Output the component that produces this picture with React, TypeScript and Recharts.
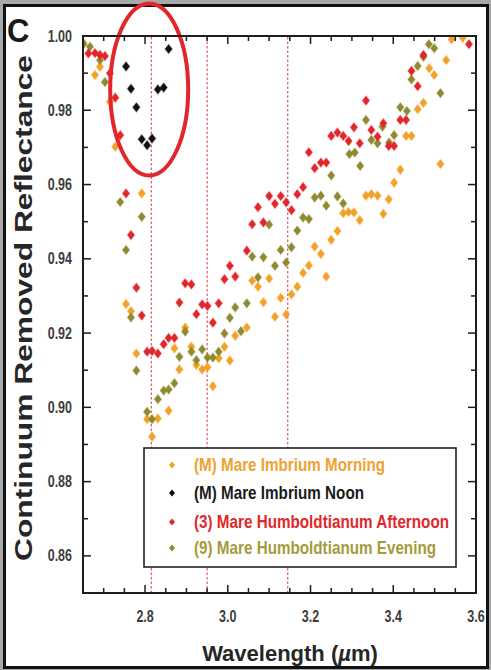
import React from "react";
import {
  ScatterChart,
  Scatter,
  XAxis,
  YAxis,
  ReferenceLine,
  ReferenceDot,
  Legend,
} from "recharts";

// axis ticks (µm and reflectance)
const X_DOMAIN: [number, number] = [2.65, 3.6];
const Y_DOMAIN: [number, number] = [0.85, 1.0];
const X_TICKS = [2.65, 2.7, 2.75, 2.8, 2.85, 2.9, 2.95, 3.0, 3.05, 3.1, 3.15, 3.2, 3.25, 3.3, 3.35, 3.4, 3.45, 3.5, 3.55, 3.6];
const X_LABELS = [2.8, 3.0, 3.2, 3.4, 3.6];
const Y_TICKS = [0.85, 0.86, 0.87, 0.88, 0.89, 0.9, 0.91, 0.92, 0.93, 0.94, 0.95, 0.96, 0.97, 0.98, 0.99, 1.0];
const Y_LABELS = [0.86, 0.88, 0.9, 0.92, 0.94, 0.96, 0.98, 1.0];

// dashed band markers and the highlighted region
const BAND_LINES = [2.815, 2.95, 3.145];
const HIGHLIGHT = { x: 2.81, y: 0.9856 };

// [wavelength µm, continuum removed reflectance]
const morning: [number, number][] = [
  [2.651, 0.9982], [2.679, 0.9895], [2.691, 0.9917], [2.715, 0.9823], [2.728, 0.9702],
  [2.754, 0.9278], [2.766, 0.9259], [2.779, 0.9145], [2.792, 0.9576], [2.805, 0.8968],
  [2.817, 0.8921], [2.831, 0.897], [2.857, 0.8991], [2.871, 0.9159], [2.883, 0.9102],
  [2.897, 0.9215], [2.912, 0.9163], [2.924, 0.9114], [2.938, 0.9102], [2.951, 0.9108],
  [2.964, 0.9057], [2.978, 0.9132], [2.992, 0.9163], [3.005, 0.9126], [3.018, 0.9193],
  [3.046, 0.9215], [3.059, 0.9341], [3.073, 0.9325], [3.086, 0.9283], [3.1, 0.9347],
  [3.114, 0.9244], [3.128, 0.9295], [3.141, 0.925], [3.154, 0.9304], [3.168, 0.9325],
  [3.182, 0.9362], [3.196, 0.9382], [3.21, 0.9433], [3.225, 0.9413], [3.238, 0.9352],
  [3.25, 0.9451], [3.265, 0.9475], [3.279, 0.9523], [3.292, 0.9526], [3.305, 0.9525],
  [3.319, 0.9504], [3.334, 0.957], [3.347, 0.9574], [3.362, 0.957], [3.376, 0.9521],
  [3.389, 0.956], [3.402, 0.9605], [3.417, 0.964], [3.431, 0.9731], [3.444, 0.9731],
  [3.459, 0.9803], [3.473, 0.982], [3.487, 0.9913], [3.499, 0.9895], [3.514, 0.9655],
  [3.528, 0.9935], [3.541, 0.9991], [3.568, 0.9995],
];

const noon: [number, number][] = [
  [2.754, 0.9918], [2.766, 0.9858], [2.779, 0.9808], [2.792, 0.9722], [2.805, 0.9706],
  [2.817, 0.9724], [2.831, 0.9856], [2.845, 0.9861], [2.857, 0.9965],
];

const afternoon: [number, number][] = [
  [2.663, 0.9953], [2.679, 0.9954], [2.691, 0.9949], [2.703, 0.9946], [2.715, 0.99],
  [2.728, 0.9834], [2.74, 0.9733], [2.754, 0.9576], [2.766, 0.9464], [2.779, 0.9322],
  [2.792, 0.9247], [2.805, 0.915], [2.817, 0.9152], [2.831, 0.9145], [2.845, 0.917],
  [2.857, 0.9187], [2.871, 0.9187], [2.883, 0.9282], [2.897, 0.9334], [2.912, 0.9331],
  [2.924, 0.9251], [2.938, 0.9277], [2.951, 0.9273], [2.964, 0.9228], [2.978, 0.928],
  [2.992, 0.9345], [3.005, 0.9381], [3.018, 0.9352], [3.046, 0.9422], [3.059, 0.9493],
  [3.073, 0.9539], [3.086, 0.9498], [3.1, 0.9569], [3.114, 0.9548], [3.128, 0.9569],
  [3.141, 0.9552], [3.154, 0.9531], [3.168, 0.9574], [3.182, 0.9593], [3.196, 0.9687],
  [3.21, 0.9644], [3.225, 0.9659], [3.238, 0.9659], [3.25, 0.9731], [3.265, 0.974],
  [3.279, 0.9731], [3.292, 0.9717], [3.305, 0.9754], [3.319, 0.9711], [3.334, 0.9826],
  [3.347, 0.9747], [3.362, 0.9729], [3.376, 0.9765], [3.389, 0.9704], [3.402, 0.9704],
  [3.417, 0.9774], [3.431, 0.9774], [3.444, 0.9906], [3.459, 0.9865], [3.473, 0.9949],
  [3.583, 0.9978],
];

const evening: [number, number][] = [
  [2.651, 0.9978], [2.667, 0.9971], [2.691, 0.9935], [2.703, 0.9876], [2.74, 0.9553],
  [2.754, 0.9424], [2.766, 0.9242], [2.779, 0.9099], [2.792, 0.9513], [2.805, 0.8988],
  [2.817, 0.8968], [2.831, 0.9022], [2.845, 0.9045], [2.857, 0.9048], [2.871, 0.9065],
  [2.883, 0.9136], [2.897, 0.9204], [2.912, 0.915], [2.924, 0.9127], [2.938, 0.9156],
  [2.951, 0.9134], [2.964, 0.9134], [2.978, 0.915], [2.992, 0.9199], [3.005, 0.9241],
  [3.018, 0.9269], [3.032, 0.9205], [3.046, 0.928], [3.059, 0.9406], [3.073, 0.935],
  [3.086, 0.9404], [3.1, 0.9492], [3.114, 0.9381], [3.128, 0.9424], [3.141, 0.939],
  [3.154, 0.9431], [3.168, 0.9476], [3.182, 0.9511], [3.196, 0.9507], [3.21, 0.9565],
  [3.225, 0.957], [3.238, 0.9543], [3.25, 0.9624], [3.265, 0.9568], [3.279, 0.9549],
  [3.294, 0.9682], [3.307, 0.9686], [3.32, 0.965], [3.334, 0.9774], [3.347, 0.972],
  [3.362, 0.9711], [3.374, 0.9756], [3.39, 0.9713], [3.402, 0.9733], [3.417, 0.9808],
  [3.433, 0.9798], [3.444, 0.9883], [3.459, 0.9919], [3.473, 0.9944], [3.486, 0.9978],
  [3.499, 0.9967], [3.514, 0.9846],
];

const SERIES = [
  { key: "morning", name: "(M) Mare Imbrium Morning", points: morning, color: "#f2a227", text: "#efa232", width: 191 },
  { key: "noon", name: "(M) Mare Imbrium Noon", points: noon, color: "#111111", text: "#1a1a1a", width: 170 },
  { key: "afternoon", name: "(3) Mare Humboldtianum Afternoon", points: afternoon, color: "#e2262b", text: "#e0282c", width: 255 },
  { key: "evening", name: "(9) Mare Humboldtianum Evening", points: evening, color: "#8f8a2e", text: "#a49b3a", width: 242 },
];
// draw order: noon on top
const DRAW_ORDER = ["morning", "evening", "afternoon", "noon"];

const FONT = '"Liberation Sans", Arial, Helvetica, sans-serif';
const TICK_TEXT = "#3c3c3c";

// plot box in page pixels; the chart margins are derived from it
const CHART_W = 491;
const CHART_H = 670;
const PLOT = { left: 83, top: 36, right: 476, bottom: 593 };

const near = (v: number, list: number[]) => list.some((t) => Math.abs(t - v) < 1e-6);

function BottomTick({ x, y, payload }: any) {
  if (!near(payload.value, X_LABELS)) return <g />;
  return (
    <text
      transform={`translate(${x},${y + 29}) scale(1,1.25)`}
      textAnchor="middle"
      fontFamily={FONT}
      fontWeight="bold"
      fontSize={12.5}
      fill={TICK_TEXT}
    >
      {payload.value.toFixed(1)}
    </text>
  );
}

function LeftTick({ x, y, payload }: any) {
  if (!near(payload.value, Y_LABELS)) return <g />;
  return (
    <text
      transform={`translate(${x - 11},${y + 5.5}) scale(1,1.3)`}
      textAnchor="end"
      fontFamily={FONT}
      fontWeight="bold"
      fontSize={12.5}
      fill={TICK_TEXT}
    >
      {payload.value.toFixed(2)}
    </text>
  );
}

// frame with inward ticks on all four sides, drawn as thin filled bars
function Frame() {
  const w = PLOT.right - PLOT.left;
  const h = PLOT.bottom - PLOT.top;
  const px = (v: number) => PLOT.left + ((v - X_DOMAIN[0]) / (X_DOMAIN[1] - X_DOMAIN[0])) * w;
  const py = (v: number) => PLOT.bottom - ((v - Y_DOMAIN[0]) / (Y_DOMAIN[1] - Y_DOMAIN[0])) * h;
  const ink = "#1d1d1d";
  const bars: React.ReactNode[] = [];
  X_TICKS.forEach((v) => {
    const len = near(v, X_LABELS) ? 8 : 5;
    const x = px(v);
    bars.push(<rect key={`b${v}`} x={x - 0.75} y={PLOT.bottom - len} width={1.5} height={len} fill={ink} />);
    bars.push(<rect key={`t${v}`} x={x - 0.75} y={PLOT.top} width={1.5} height={len} fill={ink} />);
  });
  Y_TICKS.forEach((v) => {
    const len = near(v, Y_LABELS) ? 8 : 5;
    const y = py(v);
    bars.push(<rect key={`l${v}`} x={PLOT.left} y={y - 0.75} width={len} height={1.5} fill={ink} />);
    bars.push(<rect key={`r${v}`} x={PLOT.right - len} y={y - 0.75} width={len} height={1.5} fill={ink} />);
  });
  return (
    <g>
      {bars}
      <rect x={PLOT.left - 1} y={PLOT.top - 1} width={w + 2} height={2} fill={ink} />
      <rect x={PLOT.left - 1} y={PLOT.bottom - 1} width={w + 2} height={2} fill={ink} />
      <rect x={PLOT.left - 1} y={PLOT.top - 1} width={2} height={h + 2} fill={ink} />
      <rect x={PLOT.right - 1} y={PLOT.top - 1} width={2} height={h + 2} fill={ink} />
    </g>
  );
}

const diamond = (color: string, w = 3.6, h = 4.6) => (p: any) => (
  <path
    d={`M${p.cx},${p.cy - h} L${p.cx + w},${p.cy} L${p.cx},${p.cy + h} L${p.cx - w},${p.cy} Z`}
    fill={color}
    stroke={color}
    strokeOpacity={0.3}
    strokeWidth={1.4}
  />
);

function LegendBox() {
  return (
    <svg width={314} height={121} style={{ display: "block" }}>
      <rect x={1} y={1} width={312} height={119} fill="#fff" stroke="#222" strokeWidth={1.6} />
      {SERIES.map((s, i) => {
        const cy = [18, 46, 75, 101][i];
        return (
          <g key={s.key}>
            <path d={`M29,${cy - 3.5} L32,${cy} L29,${cy + 3.5} L26,${cy} Z`} fill={s.color} />
            <text
              transform={`translate(51,${cy + 5.5}) scale(1,1.2)`}
              fontFamily={FONT}
              fontWeight="bold"
              fontSize={15}
              fill={s.text}
              textLength={s.width}
              lengthAdjust="spacingAndGlyphs"
            >
              {s.name}
            </text>
          </g>
        );
      })}
    </svg>
  );
}

export default function App() {
  const ordered = DRAW_ORDER.map((k) => SERIES.find((s) => s.key === k)!);
  return (
    <div style={{ position: "fixed", left: 0, top: 0, width: CHART_W, height: CHART_H, background: "#a8a8a8", fontFamily: FONT }}>
      <div
        style={{
          position: "absolute",
          left: 3,
          top: 4,
          width: 486,
          height: 665,
          boxSizing: "border-box",
          border: "3px solid #111",
          background: "#fff",
        }}
      />
      <div style={{ position: "absolute", left: 0, top: 0 }}>
        <ScatterChart
          width={CHART_W}
          height={CHART_H}
          margin={{ top: PLOT.top, right: CHART_W - PLOT.right, bottom: 0, left: 0 }}
        >
          <XAxis
            type="number"
            dataKey="x"
            domain={X_DOMAIN}
            allowDataOverflow
            ticks={X_TICKS}
            interval={0}
            height={CHART_H - PLOT.bottom}
            axisLine={false}
            tickLine={false}
            tickSize={0}
            tickMargin={0}
            tick={<BottomTick />}
          />
          <YAxis
            type="number"
            dataKey="y"
            domain={Y_DOMAIN}
            allowDataOverflow
            ticks={Y_TICKS}
            interval={0}
            width={PLOT.left}
            axisLine={false}
            tickLine={false}
            tickSize={0}
            tickMargin={0}
            tick={<LeftTick />}
          />
          {BAND_LINES.map((v) => (
            <ReferenceLine key={v} x={v} stroke="#d8363a" strokeWidth={1} strokeDasharray="2.5 2" />
          ))}
          {ordered.map((s) => (
            <Scatter
              key={s.key}
              name={s.name}
              data={s.points.map(([x, y]) => ({ x, y }))}
              fill={s.color}
              shape={diamond(s.color)}
              isAnimationActive={false}
            />
          ))}
          <ReferenceDot
            x={HIGHLIGHT.x}
            y={HIGHLIGHT.y}
            ifOverflow="visible"
            shape={(p: any) => (
              <ellipse cx={p.cx} cy={p.cy} rx={39} ry={86} fill="none" stroke="#e3262b" strokeWidth={4} />
            )}
          />
          <Legend
            layout="vertical"
            align="center"
            verticalAlign="middle"
            wrapperStyle={{ left: 143, top: 447, width: 314, height: 121 }}
            content={() => <LegendBox />}
          />
        </ScatterChart>
      </div>
      <svg
        width={CHART_W}
        height={CHART_H}
        style={{ position: "absolute", left: 0, top: 0, pointerEvents: "none" }}
      >
        <Frame />
        <text transform="translate(7,42) scale(1,1.1)" fontFamily={FONT} fontWeight="bold" fontSize={31} fill="#1a1a1a">
          C
        </text>
        <text
          transform="translate(32,308) rotate(-90)"
          textAnchor="middle"
          fontFamily={FONT}
          fontWeight="bold"
          fontSize={24}
          fill="#262626"
          textLength={506}
          lengthAdjust="spacingAndGlyphs"
        >
          Continuum Removed Reflectance
        </text>
        <text x={290} y={661} textAnchor="middle" fontFamily={FONT} fontWeight="bold" fontSize={22} fill="#262626">
          Wavelength (<tspan fontStyle="italic">µ</tspan>m)
        </text>
      </svg>
    </div>
  );
}
